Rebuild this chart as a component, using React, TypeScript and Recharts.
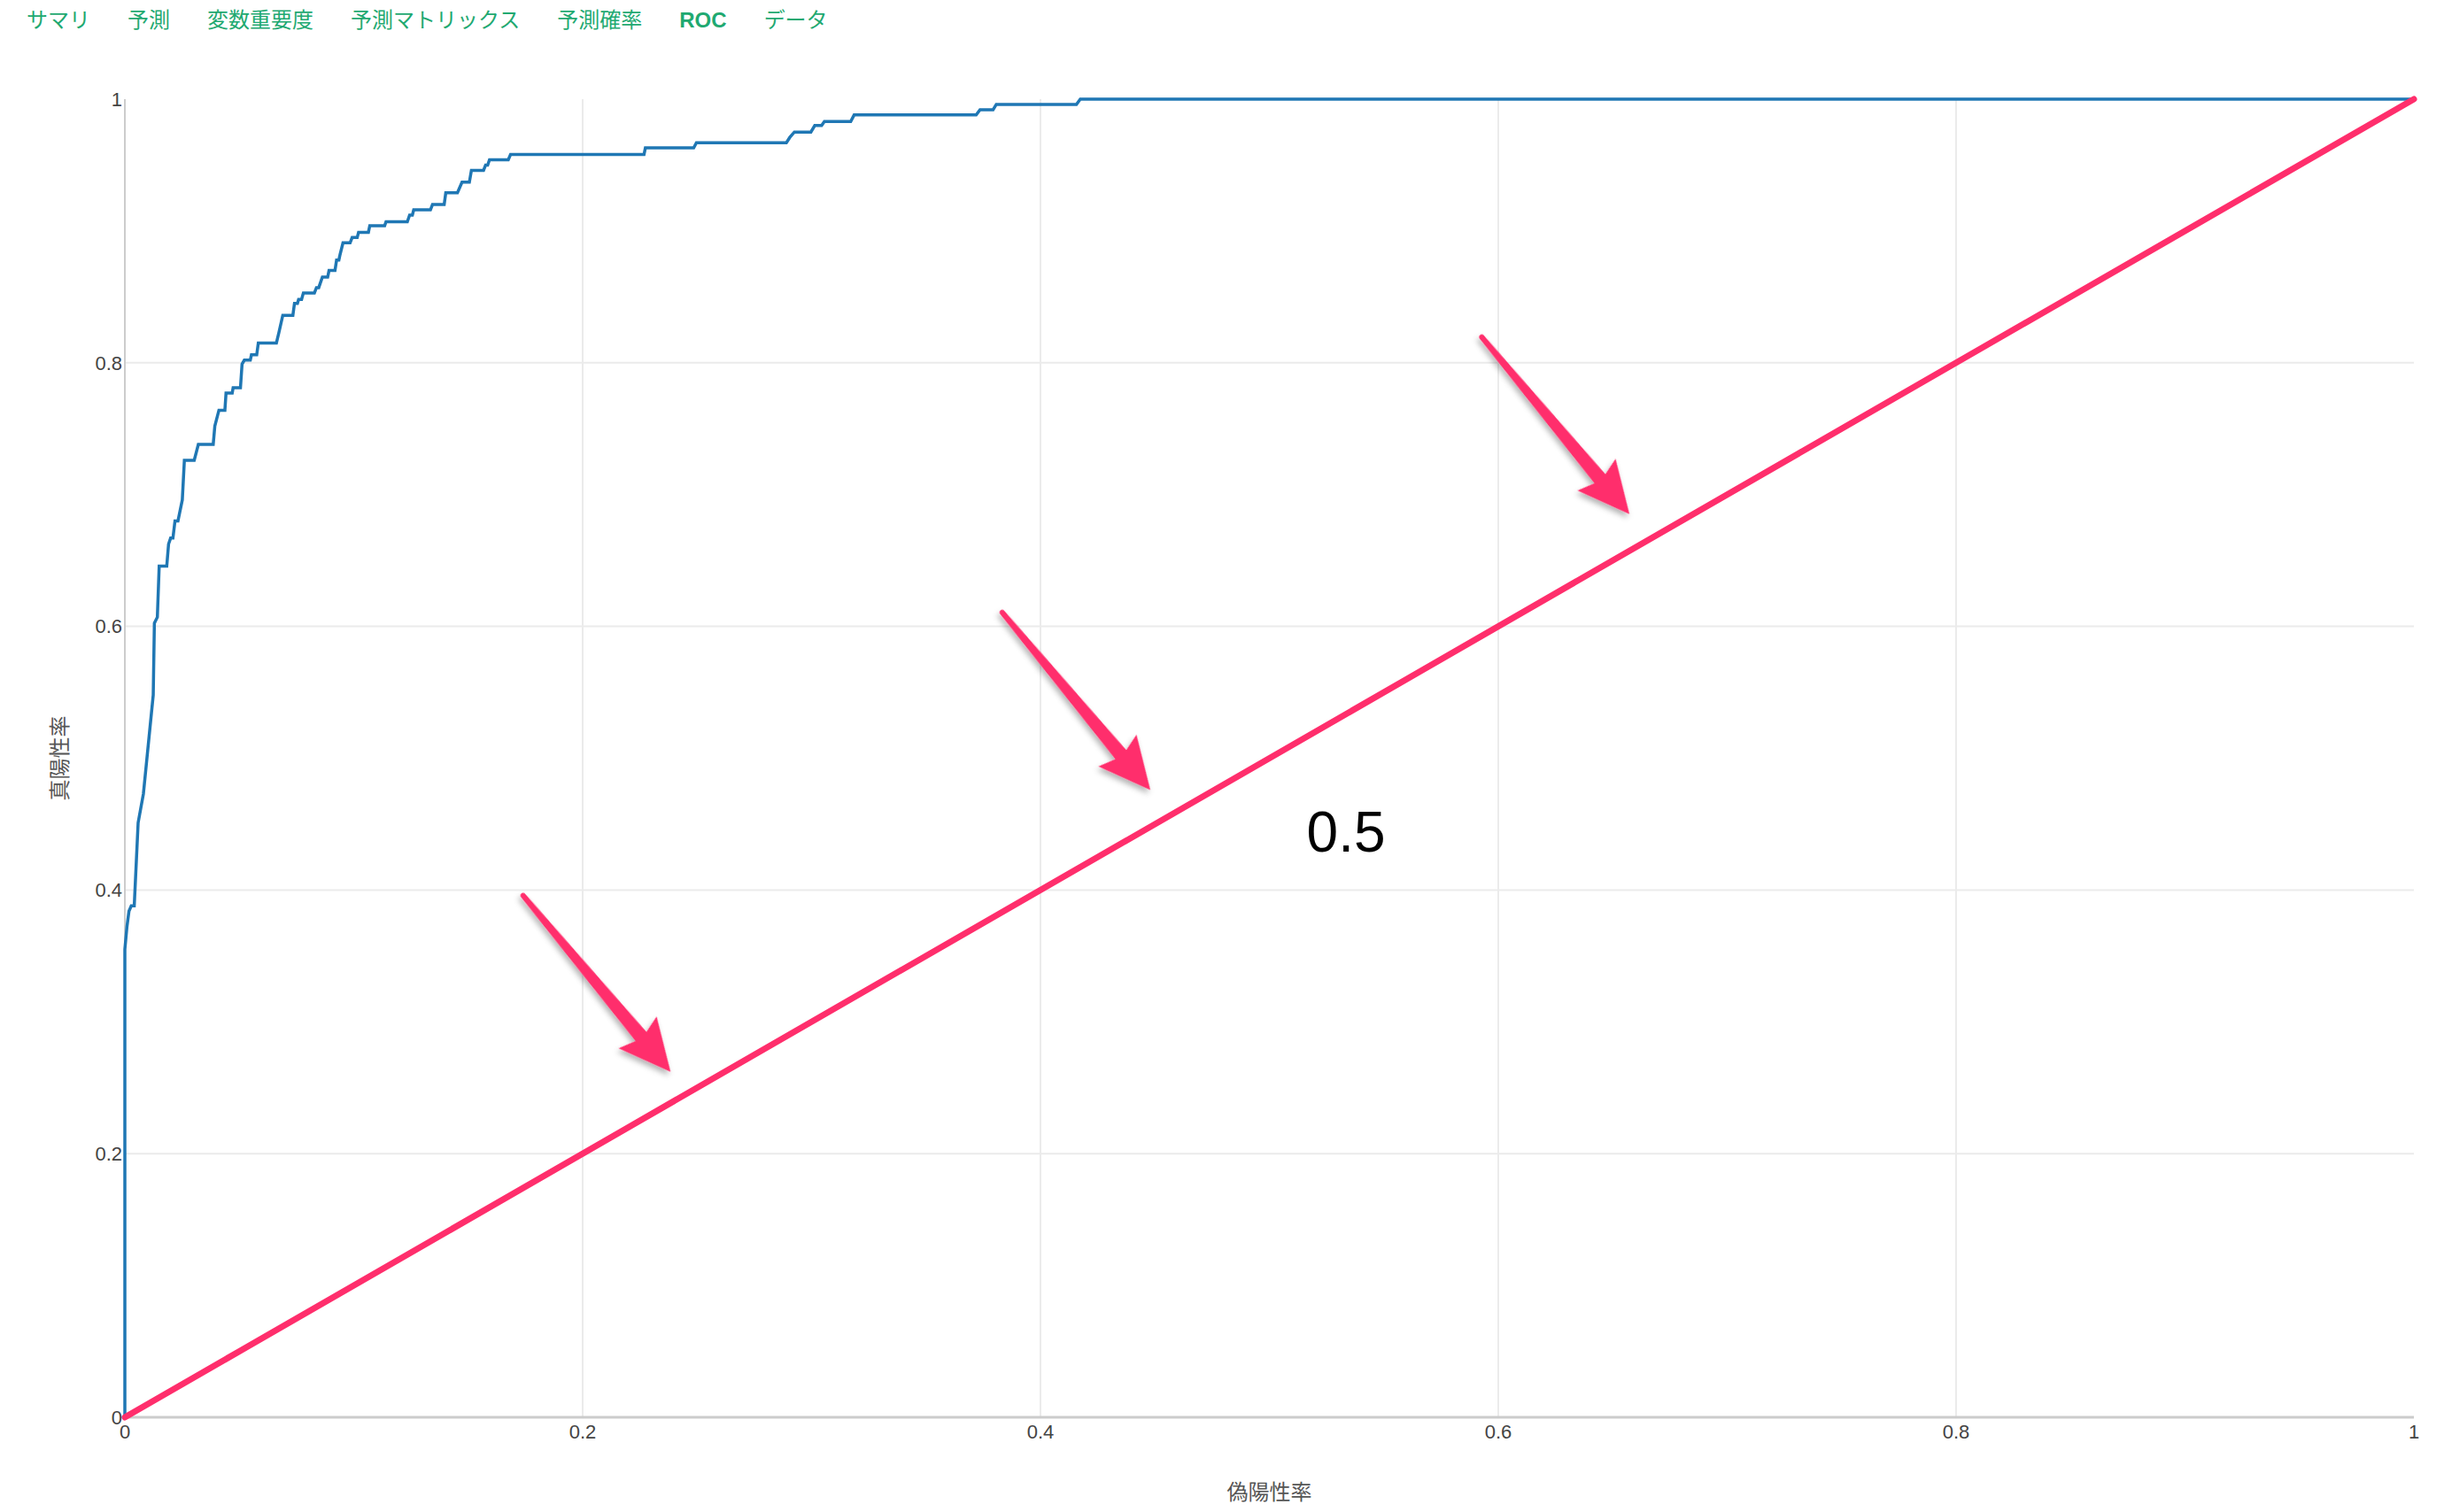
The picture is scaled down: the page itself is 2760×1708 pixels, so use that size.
import React from 'react';
import { LineChart, Line, XAxis, YAxis, CartesianGrid, ReferenceLine, ReferenceDot } from 'recharts';

const tabLabels = ['サマリ', '予測', '変数重要度', '予測マトリックス', '予測確率', 'ROC', 'データ'];
const activeTab = 'ROC';

const rocFpr = [
  0, 0, 0.0009, 0.0018, 0.0028, 0.0041, 0.0058, 0.0081, 0.0124, 0.0129, 0.0142, 0.015, 0.0183, 0.0191, 0.02, 0.021,
  0.0219, 0.0232, 0.0251, 0.026, 0.0303, 0.0321, 0.0386, 0.0393, 0.0411, 0.0437, 0.0442, 0.0469, 0.0473, 0.0505,
  0.0512, 0.0522, 0.0548, 0.0553, 0.0576, 0.0583, 0.0662, 0.0673, 0.069, 0.0734, 0.0741, 0.0754, 0.0759, 0.0772,
  0.078, 0.0828, 0.0837, 0.0847, 0.0863, 0.0886, 0.0892, 0.0918, 0.0925, 0.0935, 0.094, 0.0953, 0.0984, 0.0993,
  0.1015, 0.1021, 0.1064, 0.107, 0.1135, 0.1141, 0.1234, 0.1244, 0.1256, 0.1262, 0.1335, 0.1344, 0.1395, 0.1402,
  0.1453, 0.1473, 0.1505, 0.1514, 0.1567, 0.1576, 0.1585, 0.1593, 0.1675, 0.1685, 0.2268, 0.2274, 0.2485, 0.2497,
  0.289, 0.2905, 0.2925, 0.2997, 0.3014, 0.3044, 0.3056, 0.3171, 0.3186, 0.3719, 0.3736, 0.3793, 0.3807, 0.4157,
  0.4174, 1,
];
const rocTpr = [
  0, 0.355, 0.372, 0.384, 0.388, 0.388, 0.451, 0.473, 0.548, 0.6025, 0.607, 0.6457, 0.6457, 0.6625, 0.667, 0.667,
  0.68, 0.68, 0.696, 0.726, 0.726, 0.738, 0.738, 0.752, 0.764, 0.764, 0.777, 0.777, 0.781, 0.781,
  0.799, 0.802, 0.802, 0.806, 0.806, 0.815, 0.815, 0.823, 0.836, 0.836, 0.845, 0.845, 0.848, 0.848,
  0.853, 0.853, 0.857, 0.857, 0.865, 0.865, 0.87, 0.87, 0.878, 0.878, 0.882, 0.891, 0.891, 0.895,
  0.895, 0.899, 0.899, 0.904, 0.904, 0.907, 0.907, 0.912, 0.912, 0.916, 0.916, 0.92, 0.92, 0.929,
  0.929, 0.937, 0.937, 0.946, 0.946, 0.95, 0.95, 0.954, 0.954, 0.958, 0.958, 0.963, 0.963, 0.967,
  0.967, 0.971, 0.975, 0.975, 0.98, 0.98, 0.983, 0.983, 0.988, 0.988, 0.992, 0.992, 0.996, 0.996,
  1, 1,
];

const baselineFpr = [0, 1];
const baselineTpr = [0, 1];

const xTicks = [0, 0.2, 0.4, 0.6, 0.8, 1];
const yTicks = [0, 0.2, 0.4, 0.6, 0.8, 1];
const gridValues = [0.2, 0.4, 0.6, 0.8];
const axisValues = [0];

const xTitle = '偽陽性率';
const yTitle = '真陽性率';

const annotationText = '0.5';
const annotationX = 0.5335;
const annotationY = 0.4292;

const arrowTailX = [0.174, 0.3833, 0.5928];
const arrowTailY = [0.3958, 0.6106, 0.8195];
const arrowTipX = [0.2384, 0.448, 0.6573];
const arrowTipY = [0.2621, 0.4759, 0.6852];

const rocData = rocFpr.map((x, i) => ({ x, y: rocTpr[i] }));
const baselineData = baselineFpr.map((x, i) => ({ x, y: baselineTpr[i] }));

const PINK = '#ff2e6c';
const BLUE = '#1f77b4';
const GREEN = '#1fa971';
const LATIN = "'Liberation Sans', Arial, sans-serif";
const CJK = "'Liberation Sans', 'Noto Sans CJK JP', sans-serif";

const ArrowShape = (props: any) => {
  const { x1, y1, x2, y2 } = props;
  if ([x1, y1, x2, y2].some((v) => typeof v !== 'number' || isNaN(v))) return <g />;
  const dx = x2 - x1;
  const dy = y2 - y1;
  const L = Math.sqrt(dx * dx + dy * dy);
  const ang = (Math.atan2(dy, dx) * 180) / Math.PI;
  const d = `M 0 -3 L ${L - 52} -8 L ${L - 58} -28 L ${L} 0 L ${L - 58} 28 L ${L - 52} 8 L 0 3 A 3 3 0 0 1 0 -3 Z`;
  return (
    <g>
      <defs>
        <filter id="arrowShadow" x="-20%" y="-20%" width="140%" height="140%">
          <feDropShadow dx="2" dy="4" stdDeviation="3" floodColor="#000" floodOpacity="0.3" />
        </filter>
      </defs>
      <path d={d} fill={PINK} transform={`translate(${x1},${y1}) rotate(${ang})`} filter="url(#arrowShadow)" />
    </g>
  );
};

const AnnotationShape = (props: any) => {
  const { cx, cy } = props;
  return (
    <text x={cx} y={cy} textAnchor="middle" fontFamily={LATIN} fontSize={64} fill="#000">
      {annotationText}
    </text>
  );
};

const XTitle = (props: any) => {
  const vb = props.viewBox || {};
  return (
    <text
      x={vb.x + vb.width / 2}
      y={vb.y + 82}
      textAnchor="middle"
      dominantBaseline="central"
      fontFamily="'Noto Sans CJK JP', sans-serif"
      fontSize={24}
      fill="#555"
    >
      {xTitle}
    </text>
  );
};

const YTitle = (props: any) => {
  const vb = props.viewBox || {};
  const cx = vb.x + 57;
  const cy = vb.y + vb.height / 2;
  return (
    <text
      x={cx}
      y={cy}
      transform={`rotate(-90, ${cx}, ${cy})`}
      textAnchor="middle"
      dominantBaseline="central"
      fontFamily="'Noto Sans CJK JP', sans-serif"
      fontSize={24}
      fill="#555"
    >
      {yTitle}
    </text>
  );
};

export default function App() {
  return (
    <div style={{ position: 'relative', width: 2744, height: 1692 }}>
      <LineChart width={2744} height={1692} margin={{ top: 104, right: 26, left: 0, bottom: 0 }}>
        <CartesianGrid
          stroke="#ebebeb"
          strokeWidth={2}
          horizontalValues={gridValues}
          verticalValues={gridValues}
        />
        <CartesianGrid stroke="#cccccc" strokeWidth={2} horizontal={false} verticalValues={axisValues} />
        <CartesianGrid stroke="#cccccc" strokeWidth={3} vertical={false} horizontalValues={axisValues} />
        <XAxis
          type="number"
          dataKey="x"
          domain={[0, 1]}
          ticks={xTicks}
          interval={0}
          height={99}
          tickSize={0}
          tickMargin={8}
          tickFormatter={(v: number) => String(v)}
          tick={{ fill: '#444', fontSize: 22, fontFamily: LATIN }}
          axisLine={false}
          tickLine={false}
          label={{ content: XTitle }}
        />
        <YAxis
          type="number"
          dataKey="y"
          domain={[0, 1]}
          ticks={yTicks}
          interval={0}
          width={133}
          tickSize={0}
          tickMargin={3}
          tickFormatter={(v: number) => String(v)}
          tick={{ fill: '#444', fontSize: 22, fontFamily: LATIN }}
          axisLine={false}
          tickLine={false}
          label={{ content: YTitle }}
        />
        <Line
          data={rocData}
          dataKey="y"
          type="linear"
          stroke={BLUE}
          strokeWidth={3.5}
          dot={false}
          activeDot={false}
          isAnimationActive={false}
        />
        <Line
          data={baselineData}
          dataKey="y"
          type="linear"
          stroke={PINK}
          strokeWidth={7}
          strokeLinecap="round"
          dot={false}
          activeDot={false}
          isAnimationActive={false}
        />
        {arrowTailX.map((tx, i) => (
          <ReferenceLine
            key={`arrow-${i}`}
            segment={[
              { x: tx, y: arrowTailY[i] },
              { x: arrowTipX[i], y: arrowTipY[i] },
            ]}
            shape={ArrowShape}
            ifOverflow="visible"
          />
        ))}
        <ReferenceDot x={annotationX} y={annotationY} r={0} shape={AnnotationShape} ifOverflow="visible" />
      </LineChart>
      <div
        style={{
          position: 'absolute',
          top: 0,
          left: 22,
          display: 'flex',
          gap: 42,
          fontFamily: CJK,
          fontSize: 24,
          lineHeight: '29px',
          color: GREEN,
          whiteSpace: 'nowrap',
        }}
      >
        {tabLabels.map((t) => (
          <span key={t} style={{ fontWeight: t === activeTab ? 700 : 400 }}>
            {t}
          </span>
        ))}
      </div>
    </div>
  );
}
